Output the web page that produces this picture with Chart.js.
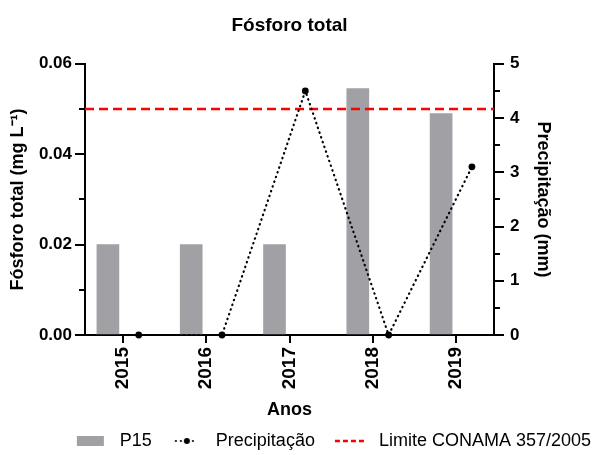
<!DOCTYPE html>
<html>
<head>
<meta charset="utf-8">
<script src="https://cdn.jsdelivr.net/npm/chart.js@4.4.1/dist/chart.umd.min.js"></script>
<style>
  html, body { margin: 0; padding: 0; background: #ffffff; }
  #wrap { width: 597px; height: 455px; }
</style>
</head>
<body>
<div id="wrap"><canvas id="chart" width="597" height="455"></canvas></div>
<script>
// Annual total phosphorus at station P15 and rainfall on the sampling day
const years = [2015, 2016, 2017, 2018, 2019];
const p15 = [0.020, 0.020, 0.020, 0.0545, 0.049];          // mg L-1
const precipitacao = [0, 0, 4.5, 0, 3.1];                   // mm
const limiteConama = 0.05;                                  // mg L-1
const leftTicks = [0, 0.02, 0.04, 0.06];
const leftMinorTicks = [0.01, 0.03, 0.05];
const rightTicks = [0, 1, 2, 3, 4, 5];
const rightMinorTicks = [0.5, 1.5, 2.5, 3.5, 4.5];

const FONT = "'Liberation Sans', Arial, sans-serif";
const BAR_COLOR = '#a1a0a5';
const BAR_SHIFT = -0.18;     // bar sits left of the year tick
const POINT_SHIFT = 0.19;    // rainfall point sits right of the year tick
const X_PAD = 0.455;         // half-gap between axis edge and first/last year
const xMin = years[0] - X_PAD;
const xMax = years[years.length - 1] + X_PAD;

// Small legend glyphs
function legendSymbol(draw) {
  const c = document.createElement('canvas');
  c.width = 49; c.height = 14;
  draw(c.getContext('2d'));
  return c;
}
const symBar = legendSymbol(g => { g.fillStyle = BAR_COLOR; g.fillRect(15, 2, 27, 10); });
const symPrecip = legendSymbol(g => {
  g.fillStyle = '#000';
  [18, 23, 35].forEach(x => { g.beginPath(); g.arc(x, 7, 1.1, 0, 2 * Math.PI); g.fill(); });
  g.beginPath(); g.arc(29, 7, 3, 0, 2 * Math.PI); g.fill();
});
const symLimit = legendSymbol(g => {
  g.strokeStyle = '#ff0000'; g.lineWidth = 2.5; g.setLineDash([5, 3]);
  g.beginPath(); g.moveTo(14, 7); g.lineTo(44, 7); g.stroke();
});

// Shorter unlabelled minor ticks on both value axes
const minorTicks = {
  id: 'minorTicks',
  afterDraw(chart) {
    const ctx = chart.ctx;
    const area = chart.chartArea;
    ctx.save();
    ctx.strokeStyle = '#000';
    ctx.lineWidth = 2;
    const yl = chart.scales.y, yr = chart.scales.y1;
    leftMinorTicks.forEach(v => {
      const py = Math.round(yl.getPixelForValue(v));
      ctx.beginPath(); ctx.moveTo(area.left - 6, py); ctx.lineTo(area.left, py); ctx.stroke();
    });
    rightMinorTicks.forEach(v => {
      const py = Math.round(yr.getPixelForValue(v));
      ctx.beginPath(); ctx.moveTo(area.right, py); ctx.lineTo(area.right + 6, py); ctx.stroke();
    });
    ctx.restore();
  }
};

const axisGrid = { display: true, drawOnChartArea: false, drawTicks: true, offset: false, color: '#000', lineWidth: 2 };
const axisBorder = { display: true, color: '#000', width: 2 };

new Chart(document.getElementById('chart'), {
  type: 'bar',
  data: {
    datasets: [
      {
        label: 'P15',
        type: 'bar',
        data: years.map((yr, i) => ({ x: yr + BAR_SHIFT, y: p15[i] })),
        backgroundColor: BAR_COLOR,
        borderWidth: 0,
        barThickness: 22,
        xAxisID: 'x',
        yAxisID: 'y',
        order: 3
      },
      {
        label: 'Limite CONAMA 357/2005',
        type: 'line',
        data: [{ x: xMin, y: limiteConama }, { x: xMax, y: limiteConama }],
        borderColor: '#ff0000',
        borderWidth: 2.5,
        borderDash: [9, 5],
        pointRadius: 0,
        fill: false,
        xAxisID: 'x',
        yAxisID: 'y',
        order: 2
      },
      {
        label: 'Precipitação',
        type: 'line',
        data: years.map((yr, i) => ({ x: yr + POINT_SHIFT, y: precipitacao[i] })),
        borderColor: '#000',
        borderWidth: 2.2,
        borderDash: [0.5, 4.5],
        borderCapStyle: 'round',
        pointRadius: 3.4,
        pointBackgroundColor: '#000',
        pointBorderWidth: 0,
        tension: 0,
        fill: false,
        clip: false,
        xAxisID: 'x',
        yAxisID: 'y1',
        order: 1
      }
    ]
  },
  options: {
    responsive: false,
    animation: false,
    layout: { padding: { left: 0, right: 0, top: 0, bottom: -5 } },
    plugins: {
      title: {
        display: true,
        text: 'Fósforo total',
        fullSize: false,
        color: '#000',
        font: { family: FONT, size: 19, weight: 'bold' },
        padding: { top: 14, bottom: 27 }
      },
      legend: {
        display: true,
        position: 'bottom',
        align: 'end',
        labels: {
          color: '#000',
          font: { family: FONT, size: 18 },
          usePointStyle: true,
          pointStyleWidth: 49,
          padding: 6,
          generateLabels: () => [
            { text: 'P15', pointStyle: symBar, fillStyle: 'transparent', strokeStyle: 'transparent', lineWidth: 0, fontColor: '#000', hidden: false, datasetIndex: 0 },
            { text: 'Precipitação', pointStyle: symPrecip, fillStyle: 'transparent', strokeStyle: 'transparent', lineWidth: 0, fontColor: '#000', hidden: false, datasetIndex: 2 },
            { text: 'Limite CONAMA 357/2005', pointStyle: symLimit, fillStyle: 'transparent', strokeStyle: 'transparent', lineWidth: 0, fontColor: '#000', hidden: false, datasetIndex: 1 }
          ]
        }
      },
      tooltip: { enabled: false }
    },
    scales: {
      x: {
        type: 'linear',
        position: 'bottom',
        offset: false,
        min: xMin,
        max: xMax,
        afterBuildTicks: s => { s.ticks = years.map(v => ({ value: v })); },
        afterFit: s => { s.height = 91; },
        ticks: {
          autoSkip: false,
          minRotation: 90,
          maxRotation: 90,
          padding: 4,
          color: '#000',
          font: { family: FONT, size: 19, weight: 'bold' },
          callback: v => String(v)
        },
        grid: Object.assign({}, axisGrid, { tickLength: 8 }),
        border: axisBorder,
        title: {
          display: true,
          text: 'Anos',
          color: '#000',
          font: { family: FONT, size: 18, weight: 'bold' },
          padding: { top: 0, bottom: 5 }
        }
      },
      y: {
        type: 'linear',
        position: 'left',
        min: 0,
        max: 0.06,
        afterBuildTicks: s => { s.ticks = leftTicks.map(v => ({ value: v })); },
        afterFit: s => { s.width = 85; },
        ticks: {
          padding: 3,
          color: '#000',
          font: { family: FONT, size: 17, weight: 'bold' },
          callback: v => Number(v).toFixed(2)
        },
        grid: Object.assign({}, axisGrid, { tickLength: 10 }),
        border: axisBorder,
        title: {
          display: true,
          text: 'Fósforo total (mg L⁻¹)',
          color: '#000',
          font: { family: FONT, size: 18, weight: 'bold' },
          padding: { top: 7, bottom: 0 }
        }
      },
      y1: {
        type: 'linear',
        position: 'right',
        min: 0,
        max: 5,
        afterBuildTicks: s => { s.ticks = rightTicks.map(v => ({ value: v })); },
        afterFit: s => { s.width = 103; },
        ticks: {
          padding: 6,
          color: '#000',
          font: { family: FONT, size: 17, weight: 'bold' },
          callback: v => String(v)
        },
        grid: Object.assign({}, axisGrid, { tickLength: 10 }),
        border: axisBorder,
        title: {
          display: true,
          text: 'Precipitação (mm)',
          color: '#000',
          font: { family: FONT, size: 18, weight: 'bold' },
          padding: { top: 43, bottom: 0 }
        }
      }
    }
  },
  plugins: [minorTicks]
});
</script>
</body>
</html>
